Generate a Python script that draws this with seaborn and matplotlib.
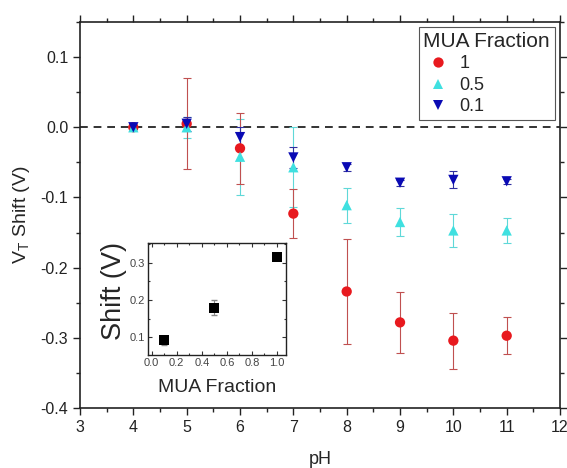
import numpy as np
import pandas as pd
import matplotlib
matplotlib.use("Agg")
import matplotlib.pyplot as plt
from matplotlib.ticker import MultipleLocator
import seaborn as sns

# ---- data ----
ph = [4, 5, 6, 7, 8, 9, 10, 11]
frac_labels = ["1", "0.5", "0.1"]
shift_1 = [0.0, 0.005, -0.030, -0.123, -0.234, -0.278, -0.304, -0.297]
err_1 = [0.003, 0.065, 0.051, 0.035, 0.075, 0.043, 0.040, 0.026]
shift_05 = [0.0, 0.0, -0.042, -0.057, -0.111, -0.135, -0.147, -0.147]
err_05 = [0.003, 0.015, 0.054, 0.057, 0.025, 0.020, 0.024, 0.018]
shift_01 = [0.0, 0.005, -0.014, -0.043, -0.057, -0.079, -0.075, -0.077]
err_01 = [0.003, 0.010, 0.014, 0.015, 0.005, 0.004, 0.012, 0.004]

inset_frac = [0.1, 0.5, 1.0]
inset_shift = [0.092, 0.179, 0.316]
inset_err = [0.012, 0.020, 0.005]

colors = {"1": "#e8191e", "0.5": "#3fe0e0", "0.1": "#0a0ab4"}
ecolors = {"1": "#c05050", "0.5": "#5fd8d8", "0.1": "#3030a0"}
markers = {"1": "o", "0.5": "^", "0.1": "v"}

rows = []
for lab, ys, es in [("1", shift_1, err_1), ("0.5", shift_05, err_05), ("0.1", shift_01, err_01)]:
    for x, y, e in zip(ph, ys, es):
        rows.append({"pH": x, "shift": y, "err": e, "MUA Fraction": lab})
df = pd.DataFrame(rows)

sns.set_theme(style="ticks")
plt.rcParams["font.family"] = ["Liberation Sans", "DejaVu Sans"]
plt.rcParams["mathtext.fontset"] = "custom"
plt.rcParams["mathtext.rm"] = "Liberation Sans"

fig = plt.figure(figsize=(5.67, 4.68), dpi=100)
ax = fig.add_axes([0.1411, 0.1282, 0.8466, 0.8248])

ax.axhline(0, color="#333333", ls=(0, (4, 3)), lw=1.4, zorder=1)

for lab in ["0.5", "1", "0.1"]:
    d = df[df["MUA Fraction"] == lab]
    ax.errorbar(d["pH"], d["shift"], yerr=d["err"], fmt="none",
                ecolor=ecolors[lab], elinewidth=0.8, capsize=3, capthick=0.8, zorder=2)

sns.scatterplot(data=df, x="pH", y="shift", hue="MUA Fraction", style="MUA Fraction",
                hue_order=frac_labels, style_order=frac_labels,
                palette=colors, markers=markers, s=55, linewidth=0, ax=ax, zorder=3)

ax.set_xlim(3, 12)
ax.set_ylim(-0.4, 0.15)
ax.xaxis.set_major_locator(MultipleLocator(1))
ax.xaxis.set_minor_locator(MultipleLocator(0.5))
ax.yaxis.set_minor_locator(MultipleLocator(0.05))
ax.set_yticks([-0.4, -0.3, -0.2, -0.1, 0.0, 0.1])
ax.set_yticklabels(["-0.4", "-0.3", "-0.2", "-0.1", "0.0", "0.1"])
ax.tick_params(which="both", direction="out", top=True, right=True,
               labeltop=False, labelright=False, color="#222222", width=1)
ax.tick_params(which="major", length=5, labelsize=11.5, labelcolor="#222222")
ax.tick_params(which="minor", length=3)
for s in ax.spines.values():
    s.set_linewidth(1.2)
    s.set_color("#222222")
ax.set_xlabel("pH", fontsize=13, labelpad=12)
ax.set_ylabel("V$_\\mathregular{T}$ Shift (V)", fontsize=14, labelpad=6)

leg = ax.legend(title="MUA Fraction", loc="upper right", fontsize=13, title_fontsize=15,
                frameon=True, fancybox=False, edgecolor="#555555", framealpha=1,
                borderaxespad=0.3, handletextpad=0.4, handlelength=1.6,
                labelspacing=0.25, borderpad=0.25, alignment="left")
leg.get_frame().set_linewidth(0.8)

# ---- inset ----
axi = fig.add_axes([0.261, 0.241, 0.243, 0.239])
axi.errorbar(inset_frac, inset_shift, yerr=inset_err, fmt="none", ecolor="#888888",
             elinewidth=0.8, capsize=2, zorder=2)
sns.scatterplot(x=inset_frac, y=inset_shift, marker="s", color="black", s=50,
                linewidth=0, ax=axi, zorder=3)
axi.set_xlim(-0.03, 1.07)
axi.set_ylim(0.052, 0.352)
axi.xaxis.set_major_locator(MultipleLocator(0.2))
axi.xaxis.set_minor_locator(MultipleLocator(0.1))
axi.yaxis.set_major_locator(MultipleLocator(0.1))
axi.yaxis.set_minor_locator(MultipleLocator(0.05))
axi.tick_params(which="both", direction="in", top=True, right=True, color="#333333", width=0.8)
axi.tick_params(which="major", length=3, labelsize=8, labelcolor="#444444", pad=2)
axi.tick_params(which="minor", length=1.5)
for s in axi.spines.values():
    s.set_linewidth(1.0)
    s.set_color("#222222")
axi.set_xlabel("MUA Fraction", fontsize=14, labelpad=8)
axi.set_ylabel("Shift (V)", fontsize=19.5, labelpad=0)
axi.yaxis.set_label_coords(-0.15, 0.57)

fig.savefig("out.png", dpi=100)
